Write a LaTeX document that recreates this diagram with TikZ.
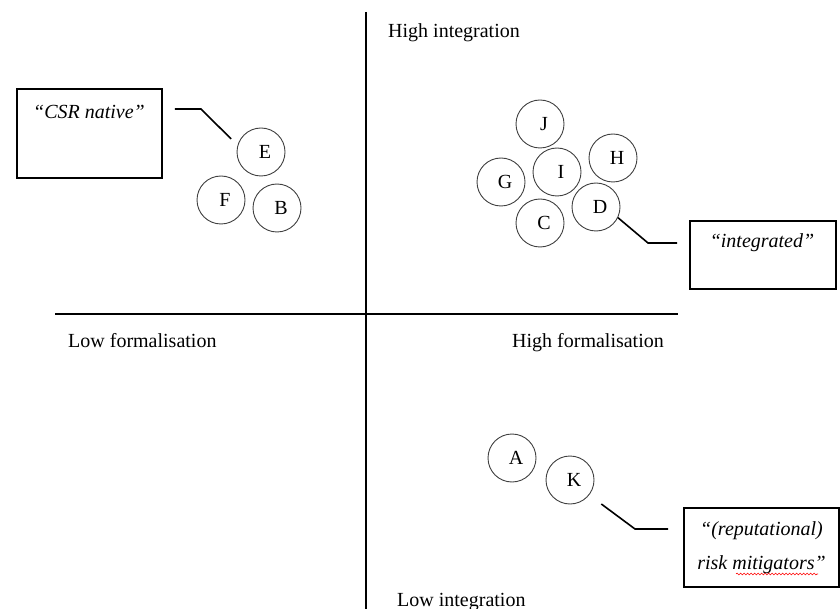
\documentclass[tikz,border=0pt]{standalone}
\usepackage{fontspec}
\setmainfont{Liberation Serif}
\usetikzlibrary{positioning,decorations.pathmorphing}

\begin{document}
\begin{tikzpicture}[
        x=1pt, y=-1pt,
        axis/.style={line width=1.8pt},
        firm/.style={
            circle,
            draw=black!75,
            line width=0.9pt,
            minimum size=48pt,
            inner sep=0pt,
            font=\fontsize{20}{24}\selectfont,
            execute at begin node={\hspace*{8pt}}
        },
        quadbox/.style={
            rectangle,
            draw,
            line width=1.8pt,
            inner sep=0pt
        },
        quote/.style={font=\fontsize{20}{24}\selectfont\itshape, inner sep=0pt},
        axislabel/.style={font=\fontsize{20}{24}\selectfont, inner sep=0pt, anchor=west,
            text height=14pt, text depth=4pt},
        leader/.style={line width=1.6pt}
    ]
        \useasboundingbox (0,0) rectangle (840,609);

        % axes
        \coordinate (axW) at (55,314);
        \coordinate (axE) at (678,314);
        \coordinate (axN) at (366,12);
        \coordinate (axS) at (366,609);
        \draw[axis] (axW) -- (axE);
        \draw[axis] (axN) -- (axS);

        \node[axislabel] (hiint) at (388,33) {High integration};
        \node[axislabel] (loform) at (68,343) {Low formalisation};
        \node[axislabel] (hiform) at (512,343) {High formalisation};
        \node[axislabel] (loint) at (397,601) {Low integration};

        % firms
        \node[firm] (E) at (261,152) {E};
        \node[firm] (F) at (221,200) {F};
        \node[firm] (B) at (277,208) {B};
        \node[firm] (J) at (540,124) {J};
        \node[firm] (I) at (557,172) {I};
        \node[firm] (H) at (613,158) {H};
        \node[firm] (G) at (501,182) {G};
        \node[firm] (D) at (596,207) {D};
        \node[firm] (C) at (540,223) {C};
        \node[firm] (A) at (512,458) {A};
        \node[firm] (K) at (570,480) {K};

        % type boxes
        \node[quadbox, minimum width=145pt, minimum height=89pt] (csrbox) at (89.5,133.5) {};
        \node[quote] (csrtext) at (89,112) {“CSR native”};
        \node[quadbox, minimum width=146pt, minimum height=68pt] (intgbox) at (763,255) {};
        \node[quote] (intgtext) at (762,243) {“integrated”};
        \node[quadbox, minimum width=155pt, minimum height=79pt, align=center,
              font=\fontsize{20}{34}\selectfont\itshape] (riskbox) at (761.5,547.5)
              {“(reputational)\\risk mitigators”};
        \draw[red, line width=0.6pt, decorate,
              decoration={snake, amplitude=0.9pt, segment length=3.5pt}]
              (736,574) -- (818,574);

        % leaders
        \coordinate (csrknee) at (201,109);
        \coordinate (dknee) at (648,243);
        \coordinate (kknee) at (635,529);
        \draw[leader, shorten <=12pt, shorten >=9pt] (csrknee -| csrbox.east) -- (csrknee) -- (E.164);
        \draw[leader, shorten >=12pt] (D.334) -- (dknee) -- (dknee -| intgbox.west);
        \draw[leader, shorten <=15pt, shorten >=15pt] (K.322) -- (kknee) -- (kknee -| riskbox.west);

    \end{tikzpicture}
\end{document}
